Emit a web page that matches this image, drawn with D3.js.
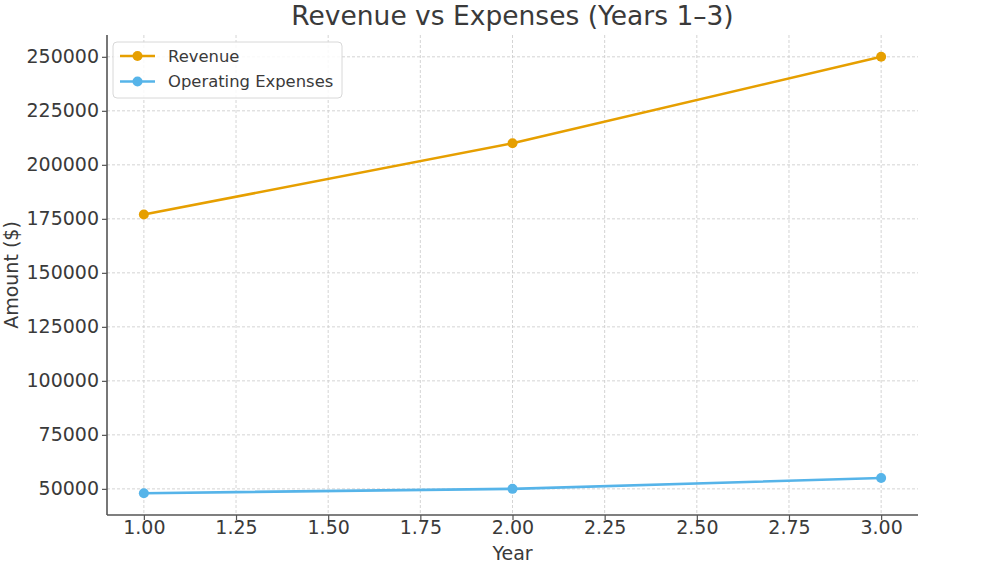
<!DOCTYPE html>
<html>
<head>
<meta charset="utf-8">
<script src="https://cdn.jsdelivr.net/npm/d3@7"></script>
<style>
  body { margin: 0; background: #fff; }
  svg { font-family: "DejaVu Sans", sans-serif; }
</style>
</head>
<body>
<div id="chart"></div>
<script>
// data
var years = [1, 2, 3];
var revenue = [177000, 210000, 250000];
var expenses = [48000, 50000, 55000];
var seriesNames = ["Revenue", "Operating Expenses"];
var seriesColors = ["#E69F00", "#56B4E9"];
var xTicks = [1, 1.25, 1.5, 1.75, 2, 2.25, 2.5, 2.75, 3];
var yTicks = [50000, 75000, 100000, 125000, 150000, 175000, 200000, 225000, 250000];

var width = 1000, height = 563;
var margin = {top: 35, right: 82, bottom: 48, left: 107};
var innerW = width - margin.left - margin.right,
    innerH = height - margin.top - margin.bottom;

var svg = d3.select("#chart")
  .append("svg")
    .attr("width", width)
    .attr("height", height);

var g = svg.append("g")
    .attr("transform", "translate(" + margin.left + "," + margin.top + ")");

var x = d3.scaleLinear().domain([0.9, 3.1]).range([0, innerW]);
var y = d3.scaleLinear().domain([37900, 260100]).range([innerH, 0]);

// grid
g.append("g").selectAll("line")
  .data(xTicks).enter().append("line")
    .attr("x1", d => x(d)).attr("x2", d => x(d))
    .attr("y1", 0).attr("y2", innerH)
    .attr("stroke", "#cfcfcf").attr("stroke-width", 0.9)
    .attr("stroke-dasharray", "3,2");

g.append("g").selectAll("line")
  .data(yTicks).enter().append("line")
    .attr("x1", 0).attr("x2", innerW)
    .attr("y1", d => y(d)).attr("y2", d => y(d))
    .attr("stroke", "#cfcfcf").attr("stroke-width", 0.9)
    .attr("stroke-dasharray", "3,2");

// axes
var xAxis = d3.axisBottom(x).tickValues(xTicks).tickFormat(d3.format(".2f")).tickSize(5).tickPadding(1);
var yAxis = d3.axisLeft(y).tickValues(yTicks).tickFormat(d3.format("d")).tickSize(5).tickPadding(3);

var gx = g.append("g")
  .attr("transform", "translate(0," + innerH + ")")
  .call(xAxis);
var gy = g.append("g").call(yAxis);

[gx, gy].forEach(function(a) {
  a.select(".domain").remove();
  a.selectAll(".tick line").attr("stroke", "#555").attr("stroke-width", 1.2);
  a.selectAll(".tick text")
    .attr("fill", "#3a3a3a")
    .style("font-size", "19px")
    .style("font-family", "DejaVu Sans");
});

// spines (left + bottom only)
g.append("line").attr("x1", 0).attr("x2", 0).attr("y1", 0).attr("y2", innerH)
  .attr("stroke", "#555").attr("stroke-width", 1.6);
g.append("line").attr("x1", 0).attr("x2", innerW).attr("y1", innerH).attr("y2", innerH)
  .attr("stroke", "#555").attr("stroke-width", 1.6);

// lines + markers
var series = [revenue, expenses];
var line = d3.line().x((d, i) => x(years[i])).y(d => y(d));

series.forEach(function(vals, k) {
  g.append("path")
    .datum(vals)
    .attr("fill", "none")
    .attr("stroke", seriesColors[k])
    .attr("stroke-width", 2.6)
    .attr("d", line);
  g.selectAll("circle.s" + k)
    .data(vals).enter().append("circle")
      .attr("class", "s" + k)
      .attr("cx", (d, i) => x(years[i]))
      .attr("cy", d => y(d))
      .attr("r", 5)
      .attr("fill", seriesColors[k]);
});

// title + axis labels
svg.append("text")
  .attr("x", margin.left + innerW / 2)
  .attr("y", 25)
  .attr("text-anchor", "middle")
  .attr("fill", "#3a3a3a")
  .style("font-size", "26.5px")
  .text("Revenue vs Expenses (Years 1\u20133)");

svg.append("text")
  .attr("x", margin.left + innerW / 2)
  .attr("y", 560)
  .attr("text-anchor", "middle")
  .attr("fill", "#3a3a3a")
  .style("font-size", "19px")
  .text("Year");

svg.append("text")
  .attr("transform", "translate(18," + (margin.top + innerH / 2) + ") rotate(-90)")
  .attr("text-anchor", "middle")
  .attr("fill", "#3a3a3a")
  .style("font-size", "19px")
  .text("Amount ($)");

// legend
var legend = g.append("g").attr("transform", "translate(6,7)");
legend.append("rect")
  .attr("width", 229).attr("height", 56)
  .attr("rx", 4)
  .attr("fill", "#fff").attr("fill-opacity", 0.85)
  .attr("stroke", "#d8d8d8").attr("stroke-width", 1);

seriesNames.forEach(function(name, k) {
  var row = legend.append("g").attr("transform", "translate(0," + (14 + k * 25.5) + ")");
  row.append("line").attr("x1", 7).attr("x2", 42).attr("y1", 0).attr("y2", 0)
    .attr("stroke", seriesColors[k]).attr("stroke-width", 2.6);
  row.append("circle").attr("cx", 24.5).attr("cy", 0).attr("r", 5).attr("fill", seriesColors[k]);
  row.append("text").attr("x", 55).attr("y", 5.5)
    .attr("fill", "#3a3a3a")
    .style("font-size", "16.4px")
    .text(name);
});
</script>
</body>
</html>
